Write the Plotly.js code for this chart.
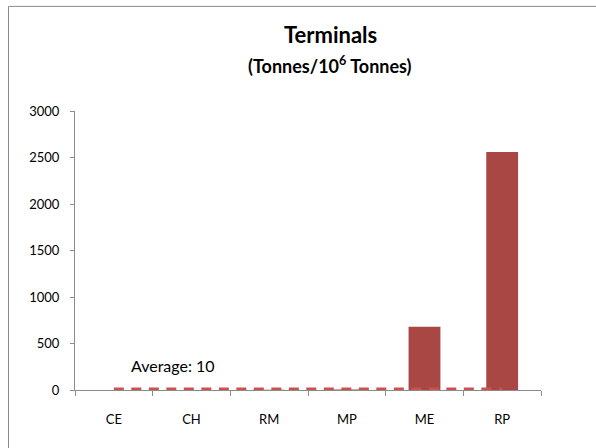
<!DOCTYPE html>
<html>
<head>
<meta charset="utf-8">
<script src="https://cdn.plot.ly/plotly-3.0.1.min.js"></script>
<style>
html,body{margin:0;padding:0;background:#fff;}
#chart{width:596px;height:448px;}
</style>
</head>
<body>
<div id="chart"></div>
<script>
// Data
var categories = ["CE", "CH", "RM", "MP", "ME", "RP"];
var values = [0.5, 1, 2, 6, 680, 2560];
var averageValue = 10;
var averageLine = [10, 10, 10, 10, 10, 10];
var yTicks = [0, 500, 1000, 1500, 2000, 2500, 3000];
var titleLine1 = "Terminals";
var titleLine2 = "(Tonnes/10<sup>6</sup> Tonnes)";
var averageLabel = "Average: " + averageValue;

var font = "Lato, 'Open Sans', Arial, sans-serif";

var bars = {
  type: "bar",
  x: categories,
  y: values,
  marker: {color: "#A94744"},
  hoverinfo: "x+y",
  showlegend: false
};

var avg = {
  type: "scatter",
  mode: "lines",
  x: categories,
  y: averageLine,
  line: {color: "#C9524F", width: 3, dash: "10px,7.5px"},
  showlegend: false
};

var layout = {
  width: 596,
  height: 448,
  margin: {l: 75, r: 55, t: 110.5, b: 57.5, pad: 0},
  paper_bgcolor: "#ffffff",
  plot_bgcolor: "#ffffff",
  font: {family: font, size: 13, color: "#000"},
  bargap: 0.59,
  showlegend: false,
  xaxis: {
    type: "category",
    showgrid: false,
    zeroline: false,
    showline: true,
    linecolor: "#8c8c8c",
    linewidth: 1,
    ticks: "outside",
    tickson: "boundaries",
    ticklen: 5,
    tickcolor: "#8c8c8c",
    ticklabelstandoff: 17,
    tickfont: {family: font, size: 13, color: "#000"},
    range: [-0.5, 5.5]
  },
  yaxis: {
    range: [0, 3000],
    tickvals: yTicks,
    showgrid: false,
    zeroline: false,
    showline: true,
    linecolor: "#8c8c8c",
    linewidth: 1,
    ticks: "outside",
    ticklen: 4,
    tickcolor: "#8c8c8c",
    ticklabelstandoff: 8,
    tickfont: {family: font, size: 13, color: "#000"}
  },
  annotations: [
    {
      text: "<b>" + titleLine1 + "</b>",
      xref: "paper", yref: "paper",
      x: (330 - 75) / 466, y: (390.5 - 34) / 280,
      xanchor: "center", yanchor: "middle",
      showarrow: false,
      font: {family: font, size: 22, color: "#000"}
    },
    {
      text: "<b>" + titleLine2 + "</b>",
      xref: "paper", yref: "paper",
      x: (330 - 75) / 466, y: (390.5 - 64) / 280,
      xanchor: "center", yanchor: "middle",
      showarrow: false,
      font: {family: font, size: 18, color: "#000"}
    },
    {
      text: averageLabel,
      xref: "x", yref: "y",
      x: 0.20, y: 262,
      xanchor: "left", yanchor: "middle",
      showarrow: false,
      font: {family: font, size: 16, color: "#000"}
    }
  ],
  shapes: [
    {
      type: "rect",
      xref: "paper", yref: "paper",
      x0: (8.5 - 75) / 466, x1: 2,
      y0: -1, y1: (390.5 - 5.5) / 280,
      line: {color: "#8a8a8a", width: 1},
      fillcolor: "rgba(0,0,0,0)",
      layer: "below"
    }
  ]
};

Plotly.newPlot("chart", [bars, avg], layout, {displayModeBar: false, staticPlot: true});
</script>
</body>
</html>
